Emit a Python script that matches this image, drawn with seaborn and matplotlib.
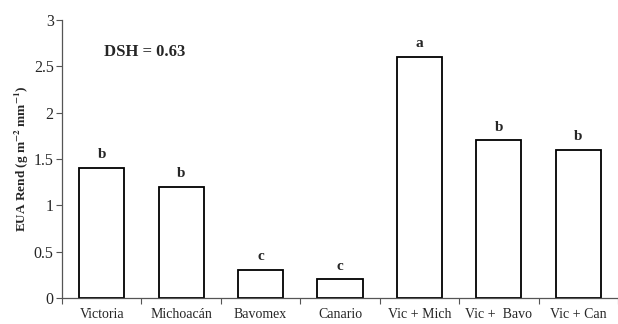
import matplotlib
matplotlib.use("Agg")
import matplotlib.pyplot as plt
import seaborn as sns
import pandas as pd
from matplotlib.ticker import FuncFormatter, FixedLocator

varieties = ["Victoria", "Michoacán", "Bavomex", "Canario",
             "Vic + Mich", "Vic +  Bavo", "Vic + Can"]
eua_rend = [1.4, 1.2, 0.3, 0.2, 2.6, 1.7, 1.6]
groups = ["b", "b", "c", "c", "a", "b", "b"]
dsh_label = "DSH = 0.63"

sns.set_style("white")
plt.rcParams["font.family"] = ["Liberation Serif", "DejaVu Serif"]
plt.rcParams["mathtext.fontset"] = "stix"

df = pd.DataFrame({"variedad": varieties, "eua": eua_rend})

fig = plt.figure(figsize=(6.18, 3.24), dpi=100)
ax = fig.add_axes([62 / 618, 26 / 324, 556 / 618, 278 / 324])

sns.barplot(data=df, x="variedad", y="eua", ax=ax, color="white",
            edgecolor="black", linewidth=1.3, width=0.57, saturation=1)

for i, (v, g) in enumerate(zip(eua_rend, groups)):
    ax.annotate(g, (i, v), xytext=(0, 5), textcoords="offset points",
                ha="center", va="bottom", fontsize=11, fontweight="bold")

ax.text(0.54, 2.65, dsh_label, ha="center", va="center",
        fontsize=12, fontweight="bold")

ax.set_xlim(-0.5, 6.5)
ax.set_ylim(0, 3)
ax.set_yticks([0, 0.5, 1, 1.5, 2, 2.5, 3])
ax.yaxis.set_major_formatter(FuncFormatter(lambda v, _: f"{v:g}"))
ax.xaxis.set_minor_locator(FixedLocator([i - 0.5 for i in range(8)]))
ax.tick_params(axis="x", which="major", length=0, labelsize=10, pad=7)
ax.tick_params(axis="x", which="minor", length=4, width=0.8, color="#555555",
               direction="out", bottom=True)
ax.tick_params(axis="y", length=4, width=0.8, color="#555555",
               direction="out", left=True, labelsize=11.5, pad=2)

for side in ("top", "right"):
    ax.spines[side].set_visible(False)
for side in ("left", "bottom"):
    ax.spines[side].set_color("#555555")
    ax.spines[side].set_linewidth(0.9)

ax.set_xlabel("")
ax.set_ylabel(r"EUA Rend (g m$^{\mathbf{-2}}$ mm$^{\mathbf{-1}}$)",
              fontsize=9.5, fontweight="bold", labelpad=2)

fig.savefig("out.png", dpi=100)
